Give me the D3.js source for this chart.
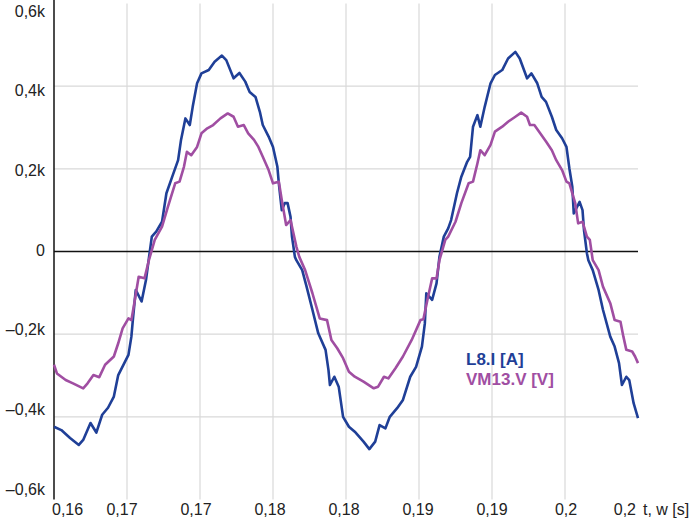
<!DOCTYPE html>
<html>
<head>
<meta charset="utf-8">
<script src="https://cdn.jsdelivr.net/npm/d3@7"></script>
<style>
    body { margin: 0; background: #fff; }
    text { font-family: "Liberation Sans", Arial, sans-serif; }
</style>
</head>
<body>
<div id="canvas"></div>
<script>
"use strict"

// ---------------- DATA ----------------
let xTicks = [0.16, 0.165, 0.17, 0.175, 0.18, 0.185, 0.19, 0.195, 0.2]
let xTickLabels = ["0,16", "0,17", "0,17", "0,18", "0,18", "0,19", "0,19", "0,2", "0,2"]
let yTicks = [-600, -400, -200, 0, 200, 400, 600]
let yTickLabels = ["–0,6k", "–0,4k", "–0,2k", "0", "0,2k", "0,4k", "0,6k"]

let seriesNames = ["L8.I [A]", "VM13.V [V]"]

// L8.I current
let tL8 = [0.1600, 0.1605, 0.1611, 0.1617, 0.1620, 0.1625, 0.1629, 0.1633, 0.1637, 0.1641,
    0.1644, 0.1651, 0.1653, 0.1654, 0.1656, 0.1660, 0.1663, 0.1665, 0.1667, 0.1670,
    0.1674, 0.1677, 0.1681, 0.1685, 0.1687, 0.1690, 0.1693, 0.1695, 0.1698, 0.1701,
    0.1706, 0.1710, 0.1715, 0.1718, 0.1723, 0.1727, 0.1731, 0.1734, 0.1738, 0.1741,
    0.1743, 0.1747, 0.1750, 0.1753, 0.1754, 0.1756, 0.1758, 0.1760, 0.1762, 0.1763,
    0.1765, 0.1766, 0.1770, 0.1773, 0.1777, 0.1781, 0.1786, 0.1788, 0.1789, 0.1792,
    0.1795, 0.1798, 0.1802, 0.1806, 0.1812, 0.1816, 0.1820, 0.1823, 0.1827, 0.1830,
    0.1835, 0.1839, 0.1844, 0.1848, 0.1852, 0.1854, 0.1855, 0.1859, 0.1862, 0.1864,
    0.1867, 0.1870, 0.1872, 0.1876, 0.1879, 0.1883, 0.1885, 0.1887, 0.1890, 0.1892,
    0.1895, 0.1899, 0.1902, 0.1907, 0.1911, 0.1916, 0.1919, 0.1924, 0.1927, 0.1931,
    0.1934, 0.1937, 0.1941, 0.1944, 0.1948, 0.1951, 0.1953, 0.1955, 0.1956, 0.1960,
    0.1962, 0.1963, 0.1965, 0.1966, 0.1969, 0.1973, 0.1976, 0.1981, 0.1984, 0.1987,
    0.1989, 0.1992, 0.1994, 0.1997, 0.2000]
let vL8 = [-424, -432, -451, -468, -456, -415, -438, -395, -378, -351,
    -299, -250, -206, -166, -93, -121, -69, -16, 36, 48,
    72, 141, 181, 221, 270, 322, 306, 350, 407, 431,
    439, 459, 474, 463, 419, 432, 411, 386, 374, 338,
    306, 278, 253, 205, 165, 100, 117, 117, 84, 36,
    -13, -21, -45, -85, -141, -198, -238, -287, -323, -303,
    -327, -400, -424, -436, -460, -478, -460, -420, -428, -400,
    -379, -359, -303, -279, -230, -174, -101, -117, -77, -13,
    36, 56, 76, 141, 181, 217, 229, 302, 330, 302,
    350, 407, 427, 439, 467, 483, 467, 419, 431, 407,
    374, 362, 326, 294, 274, 253, 201, 157, 92, 120,
    100, 52, -4, -21, -45, -93, -141, -206, -230, -270,
    -323, -303, -311, -367, -403]

// VM13.V voltage
let tVM = [0.1600, 0.1602, 0.1608, 0.1613, 0.1620, 0.1623, 0.1627, 0.1631, 0.1635, 0.1641,
    0.1644, 0.1647, 0.1651, 0.1653, 0.1655, 0.1658, 0.1662, 0.1665, 0.1669, 0.1674,
    0.1678, 0.1683, 0.1686, 0.1689, 0.1691, 0.1694, 0.1698, 0.1701, 0.1705, 0.1709,
    0.1714, 0.1719, 0.1723, 0.1726, 0.1730, 0.1733, 0.1737, 0.1740, 0.1743, 0.1747,
    0.1750, 0.1754, 0.1756, 0.1759, 0.1762, 0.1764, 0.1766, 0.1768, 0.1772, 0.1777,
    0.1782, 0.1787, 0.1790, 0.1794, 0.1798, 0.1802, 0.1806, 0.1812, 0.1819, 0.1822,
    0.1826, 0.1829, 0.1834, 0.1839, 0.1845, 0.1851, 0.1853, 0.1856, 0.1859, 0.1862,
    0.1864, 0.1868, 0.1870, 0.1875, 0.1879, 0.1884, 0.1887, 0.1890, 0.1892, 0.1895,
    0.1899, 0.1902, 0.1907, 0.1911, 0.1916, 0.1920, 0.1924, 0.1926, 0.1929, 0.1933,
    0.1937, 0.1941, 0.1944, 0.1948, 0.1951, 0.1953, 0.1957, 0.1959, 0.1962, 0.1965,
    0.1967, 0.1969, 0.1973, 0.1976, 0.1981, 0.1984, 0.1988, 0.1990, 0.1992, 0.1996,
    0.1998, 0.2000]
let vVM = [-274, -295, -311, -319, -331, -319, -299, -304, -274, -254,
    -222, -186, -162, -166, -125, -61, -65, -21, 28, 60,
    108, 165, 169, 205, 241, 233, 253, 286, 298, 306,
    322, 334, 326, 302, 306, 286, 270, 253, 229, 197,
    165, 169, 125, 64, 76, 44, 12, -13, -45, -101,
    -162, -166, -214, -234, -258, -291, -303, -315, -331, -327,
    -303, -307, -282, -254, -214, -166, -164, -113, -65, -65,
    -21, 28, 36, 72, 117, 165, 169, 213, 245, 233,
    258, 290, 302, 314, 326, 336, 326, 306, 306, 286,
    266, 245, 221, 197, 169, 165, 117, 68, 72, 36,
    28, -21, -45, -85, -125, -166, -170, -206, -238, -242,
    -254, -270]

// ---------------- SETUP ----------------
let svgWidth = 700
let svgHeight = 523

let plot = { left: 54, right: 638, top: 3.5, bottom: 499.5 }

let blue = "#1f3f97"
let purple = "#a04ea2"

let svg = d3.select("#canvas")
    .append("svg")
    .attr("width", svgWidth)
    .attr("height", svgHeight)

let xScale = d3.scaleLinear()
    .domain([0.16, 0.2])
    .range([plot.left, plot.right])

let yScale = d3.scaleLinear()
    .domain([-600, 600])
    .range([plot.bottom, plot.top])

// tick labels sit on a slightly squeezed scale so the end labels stay inside
let xLabelScale = d3.scaleLinear()
    .domain([0.16, 0.2])
    .range([48, 640])

let yLabelScale = d3.scaleLinear()
    .domain([-600, 600])
    .range([489, 11])

// ---------------- GRID ----------------
let innerX = xTicks.slice(1, -1)
let innerY = yTicks.filter(function(d) { return d !== 0 && Math.abs(d) !== 600 })

svg.append("g")
    .selectAll("line")
    .data(innerX)
    .enter()
    .append("line")
    .attr("x1", function(d) { return xScale(d) })
    .attr("x2", function(d) { return xScale(d) })
    .attr("y1", plot.top)
    .attr("y2", plot.bottom)
    .attr("stroke", "#d9d9d9")
    .attr("stroke-width", 1.2)

svg.append("g")
    .selectAll("line")
    .data(innerY)
    .enter()
    .append("line")
    .attr("x1", plot.left)
    .attr("x2", plot.right)
    .attr("y1", function(d) { return yScale(d) })
    .attr("y2", function(d) { return yScale(d) })
    .attr("stroke", "#d9d9d9")
    .attr("stroke-width", 1.2)

// zero line
svg.append("line")
    .attr("x1", plot.left)
    .attr("x2", plot.right)
    .attr("y1", yScale(0))
    .attr("y2", yScale(0))
    .attr("stroke", "#111")
    .attr("stroke-width", 1.5)

// y axis line
svg.append("line")
    .attr("x1", plot.left)
    .attr("x2", plot.left)
    .attr("y1", 0)
    .attr("y2", plot.bottom)
    .attr("stroke", "#111")
    .attr("stroke-width", 1.5)

// ---------------- TICK LABELS ----------------
svg.append("g")
    .selectAll("text")
    .data(yTicks)
    .enter()
    .append("text")
    .attr("x", 45)
    .attr("y", function(d) { return yLabelScale(d) })
    .attr("dy", "0.36em")
    .attr("text-anchor", "end")
    .attr("font-size", 16)
    .attr("fill", "#222")
    .text(function(d, i) { return yTickLabels[i] })

svg.append("g")
    .selectAll("text")
    .data(xTicks)
    .enter()
    .append("text")
    .attr("x", function(d, i) {
        if (i === 0) return 52
        if (i === xTicks.length - 1) return 636
        return xLabelScale(d)
    })
    .attr("y", 515)
    .attr("text-anchor", function(d, i) {
        if (i === 0) return "start"
        if (i === xTicks.length - 1) return "end"
        return "middle"
    })
    .attr("font-size", 16)
    .attr("fill", "#222")
    .text(function(d, i) { return xTickLabels[i] })

svg.append("text")
    .attr("x", 643)
    .attr("y", 515)
    .attr("font-size", 16)
    .attr("fill", "#222")
    .text("t, w [s]")

// ---------------- SERIES ----------------
let line = d3.line()
    .x(function(d) { return xScale(d[0]) })
    .y(function(d) { return yScale(d[1]) })

let series = [
    { name: seriesNames[0], color: blue, points: d3.zip(tL8, vL8) },
    { name: seriesNames[1], color: purple, points: d3.zip(tVM, vVM) }
]

svg.append("g")
    .selectAll("path")
    .data(series)
    .enter()
    .append("path")
    .attr("d", function(d) { return line(d.points) })
    .attr("fill", "none")
    .attr("stroke", function(d) { return d.color })
    .attr("stroke-width", 2.6)
    .attr("stroke-linejoin", "round")

// ---------------- LEGEND ----------------
svg.append("g")
    .selectAll("text")
    .data(series)
    .enter()
    .append("text")
    .attr("x", 466)
    .attr("y", function(d, i) { return 365 + i * 20 })
    .attr("font-size", 17)
    .attr("font-weight", "bold")
    .attr("fill", function(d) { return d.color })
    .text(function(d) { return d.name })
</script>
</body>
</html>
